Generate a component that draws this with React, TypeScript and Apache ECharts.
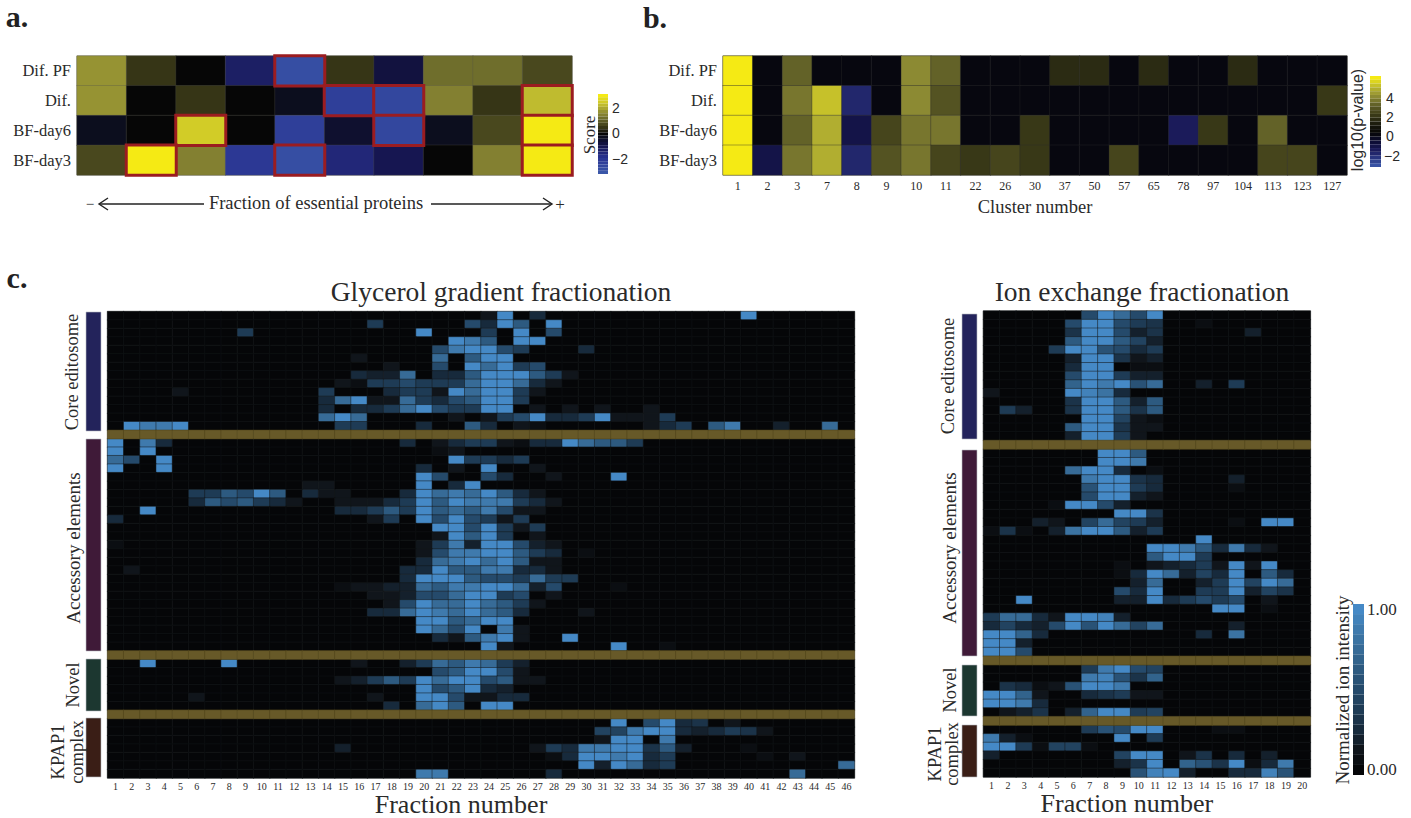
import React, { useEffect, useRef } from "react";
import * as echarts from "echarts";

type Row = Record<number, number>;

// ---------- panel a ----------
const scoreConditions = ["Dif. PF", "Dif.", "BF-day6", "BF-day3"];
const scoreDifPF = [1.8, 0.6, 0, -1.4, -3.0, 0.6, -0.8, 1.2, 1.4, 0.7];
const scoreDif = [1.8, 0, 0.6, 0, -0.3, -2.3, -2.6, 1.6, 0.6, 2.4];
const scoreDay6 = [-0.3, 0.1, 2.6, 0.05, -2.3, -0.5, -2.6, -0.2, 0.9, 3.3];
const scoreDay3 = [0.8, 3.3, 1.6, -2.2, -3.0, -1.6, -1.1, 0, 1.6, 3.1];
// [column, row] of the outlined cells
const scoreOutlined = [[4, 0], [5, 1], [6, 1], [9, 1], [2, 2], [6, 2], [9, 2], [1, 3], [4, 3], [9, 3]];

// ---------- panel b ----------
const clusterNumbers = ["1", "2", "3", "7", "8", "9", "10", "11", "22", "26", "30", "37", "50", "57", "65", "78", "97", "104", "113", "123", "127"];
const pvalDifPF = [6, 0, 3, 0, 0, 0, 3.8, 3, 0, 0, 0, 1.5, 1.6, 0, 1.6, 0, 0, 1.5, 0, 0, 0];
const pvalDif = [6, 0, 3.4, 4.9, -2, 0, 3.8, 2.5, 0, 0, 0, 0, 0, 0, 0, 0, 0, 0, 0, 0, 2];
const pvalDay6 = [6, 0, 3.1, 4.5, -1.3, 2.2, 3.4, 3.6, 0, 0, 2, 0, 0, 0, 0, -1.6, 1.9, 0, 3, 0, 0];
const pvalDay3 = [6, -1.2, 3.6, 4.7, -2.1, 2.7, 3.3, 2.2, 1.9, 2.1, 2, 0, 0, 2.4, 0, 0, 0, 0, 2.4, 2.2, 0];

// ---------- panel c, glycerol gradient: {fraction: level 0-8} per protein ----------
const glycerolCore: Row[] = [
  { 24: 1, 25: 8, 27: 2, 40: 8 },
  { 17: 3, 23: 4, 24: 2, 25: 8, 26: 5, 28: 8 },
  { 9: 3, 20: 8, 24: 3, 26: 8, 28: 4 },
  { 22: 8, 23: 7, 24: 5, 26: 8, 27: 8 },
  { 21: 4, 22: 7, 23: 8, 24: 8, 25: 4, 26: 3, 30: 2 },
  { 16: 1, 21: 6, 23: 5, 24: 8, 25: 8 },
  { 18: 1, 21: 4, 23: 8, 24: 6, 25: 8, 26: 3, 27: 4 },
  { 16: 2, 17: 1.5, 18: 1.5, 19: 6, 21: 2, 22: 2, 23: 5, 24: 8, 25: 8, 26: 8, 27: 5, 28: 3, 29: 1 },
  { 15: 1, 16: 0.5, 17: 3, 18: 3, 19: 4, 20: 3, 21: 3, 22: 3, 23: 6, 24: 8, 25: 8, 26: 6, 27: 2, 28: 1 },
  { 5: 1, 14: 3, 18: 2, 19: 3, 20: 3, 21: 1, 22: 8, 23: 6, 24: 8, 25: 8, 26: 3, 27: 1 },
  { 14: 2, 15: 6, 16: 8, 17: 1, 18: 1, 19: 6, 20: 3, 21: 2, 22: 4, 23: 5, 24: 8, 25: 8, 26: 3 },
  { 14: 2, 16: 2, 17: 2, 18: 3, 19: 6, 20: 8, 21: 4, 22: 3, 23: 3, 24: 8, 25: 8, 27: 1, 29: 1, 31: 1, 34: 1 },
  { 14: 6, 15: 8, 16: 6, 22: 1, 24: 1, 25: 3, 26: 4, 27: 8, 28: 2, 29: 2, 30: 3, 31: 8, 32: 1, 33: 1, 34: 1, 35: 3 },
  { 2: 8, 3: 7, 4: 7, 5: 8, 15: 3, 16: 3, 20: 2, 23: 5, 24: 2, 26: 1, 27: 0.5, 34: 1, 35: 2, 36: 3, 38: 5, 39: 7, 42: 1.5, 45: 6 },
];
const glycerolAccessory: Row[] = [
  { 1: 8, 3: 7, 4: 2, 19: 2, 21: 1, 22: 2, 23: 3, 24: 3, 25: 1, 26: 0.5, 27: 2, 28: 2, 29: 8, 30: 6, 31: 5, 32: 5, 33: 3 },
  { 1: 8, 3: 8, 21: 0.5, 22: 1 },
  { 1: 6, 2: 4, 4: 8, 22: 8, 23: 3, 24: 3, 25: 2, 26: 3 },
  { 1: 8, 4: 8, 20: 2, 22: 1, 24: 8, 27: 1 },
  { 20: 8, 21: 4, 24: 4, 25: 2, 28: 1, 32: 8 },
  { 13: 1, 14: 1, 20: 8, 22: 2, 23: 8 },
  { 6: 3, 7: 3, 8: 5, 9: 4, 10: 8, 11: 5, 13: 2, 14: 1, 15: 1, 19: 2, 20: 8, 21: 6, 22: 7, 23: 6, 24: 8, 25: 5, 26: 2, 27: 1 },
  { 6: 2, 7: 5, 8: 4, 9: 5, 10: 3, 11: 2, 12: 1, 15: 1, 16: 1, 17: 1, 18: 2, 19: 3, 20: 8, 21: 5, 22: 8, 23: 7, 24: 7, 25: 7, 26: 3, 27: 2, 28: 1 },
  { 3: 8, 15: 2, 16: 2, 17: 3, 18: 5, 19: 3, 20: 8, 21: 5, 22: 6, 23: 5, 24: 7, 25: 4, 26: 1, 27: 1 },
  { 1: 2, 17: 1, 18: 3, 20: 8, 21: 4, 22: 8, 23: 4, 24: 3, 25: 1, 26: 3 },
  { 21: 8, 22: 8, 23: 4, 24: 8, 25: 3, 26: 1, 27: 3 },
  { 21: 1, 22: 8, 23: 5, 24: 8, 25: 3, 27: 1 },
  { 1: 0.5, 20: 1, 21: 3, 22: 7, 23: 1.5, 24: 8, 25: 8, 26: 4, 27: 1.5, 28: 1 },
  { 20: 1, 21: 4, 22: 7, 23: 7, 24: 8, 25: 8, 26: 5, 27: 3, 28: 2, 30: 0.5 },
  { 20: 2, 21: 6, 22: 7, 23: 8, 24: 6, 25: 8, 26: 5, 27: 1, 28: 1 },
  { 2: 1, 19: 2, 20: 2, 21: 8, 22: 5, 23: 5, 24: 7, 25: 7, 26: 2, 27: 2, 28: 1 },
  { 19: 2, 20: 8, 21: 8, 22: 8, 23: 5, 24: 4, 25: 4, 26: 3, 27: 6, 28: 3, 29: 3 },
  { 15: 0.5, 16: 1, 17: 1, 18: 1.5, 19: 1.5, 20: 6, 21: 5, 22: 7, 23: 7, 24: 8, 25: 8, 26: 6, 27: 1.5, 28: 4, 32: 0.5 },
  { 17: 1, 18: 1, 19: 1.5, 20: 4, 21: 4, 22: 6, 23: 8, 24: 8, 25: 3, 26: 4, 28: 1 },
  { 18: 1, 19: 4, 20: 8, 21: 6, 22: 6, 23: 8, 24: 6, 25: 5, 26: 3, 27: 1 },
  { 17: 2, 18: 2, 19: 6, 20: 8, 21: 7, 22: 6, 23: 8, 24: 6, 25: 5, 26: 2, 30: 1 },
  { 20: 8, 21: 8, 22: 5, 23: 6, 24: 8, 25: 8 },
  { 20: 8, 21: 6, 22: 4, 23: 8, 25: 7, 26: 1 },
  { 21: 2, 22: 1, 23: 5, 24: 7, 25: 8, 26: 1, 29: 8 },
  { 24: 8, 25: 1, 32: 8, 35: 0.5 },
];
const glycerolNovel: Row[] = [
  { 3: 8, 8: 8, 16: 1, 19: 1.5, 20: 3, 21: 6, 22: 5, 23: 7, 24: 6, 25: 3, 26: 1.5 },
  { 21: 4, 22: 5, 23: 8, 24: 8, 25: 4, 26: 1 },
  { 15: 1, 16: 1.5, 17: 3, 18: 5, 19: 3, 20: 8, 21: 6, 22: 8, 23: 8, 24: 4, 25: 5, 26: 1, 27: 1 },
  { 20: 8, 21: 4, 22: 5, 23: 8, 24: 2, 25: 1.5 },
  { 6: 1, 17: 1, 20: 8, 21: 8, 22: 4, 23: 1, 24: 1, 25: 2, 26: 2 },
  { 18: 2, 20: 6, 21: 8, 22: 5, 24: 8, 25: 8 },
];
const glycerolKpap: Row[] = [
  { 32: 8, 34: 4, 35: 8, 36: 2, 37: 2.5, 39: 1 },
  { 31: 3.5, 32: 3.5, 33: 7, 34: 8, 35: 8, 36: 2, 37: 1.5, 38: 2, 39: 3, 40: 2.5, 41: 1 },
  { 31: 1, 32: 8, 33: 8, 35: 7 },
  { 15: 1.5, 27: 1, 28: 3, 29: 2, 30: 7, 31: 7, 32: 8, 33: 8, 34: 2.5, 35: 5, 36: 1.5, 40: 0.5 },
  { 28: 0.5, 29: 2, 30: 8, 31: 8, 32: 7, 33: 8, 34: 2, 35: 3, 41: 0.7, 43: 1 },
  { 30: 8, 31: 1.5, 32: 8, 33: 6, 34: 2, 35: 3, 46: 6 },
  { 20: 7, 21: 7, 28: 2, 43: 6 },
];

// ---------- panel c, ion exchange ----------
const ionCore: Row[] = [
  { 7: 4, 8: 8, 9: 6, 10: 4, 11: 8 },
  { 6: 4, 7: 8, 8: 8, 9: 4, 10: 3, 11: 2.5, 14: 0.7 },
  { 6: 2.5, 7: 8, 8: 8, 9: 4, 10: 1.5, 11: 2.5, 17: 1.5 },
  { 6: 5, 7: 8, 8: 8, 9: 5, 10: 3.5, 11: 1.5 },
  { 5: 3, 6: 8, 7: 8, 8: 4.5, 9: 4, 10: 2, 11: 3 },
  { 6: 1.5, 7: 8, 8: 8, 9: 2.5, 10: 1, 11: 1.5 },
  { 6: 2, 7: 8, 8: 8, 10: 0.5, 11: 0.5 },
  { 6: 4, 7: 8, 8: 8, 9: 3, 10: 1.5, 11: 1.5 },
  { 6: 5.5, 7: 8, 8: 7, 9: 8, 10: 4.5, 11: 6, 14: 1.5, 16: 3 },
  { 1: 1, 6: 8, 7: 7.5, 8: 6.5, 9: 2 },
  { 6: 2.5, 7: 8, 8: 8, 9: 5, 10: 1.5, 11: 5 },
  { 2: 3, 3: 1.5, 6: 2.5, 7: 8, 8: 8, 9: 5, 10: 2.5, 11: 5 },
  { 7: 8, 8: 8, 9: 3.5, 10: 1, 11: 0.7 },
  { 6: 5, 7: 8, 8: 8, 9: 2.5, 10: 1, 11: 1 },
  { 6: 1.5, 7: 8, 8: 8, 9: 3, 10: 1 },
];
const ionAccessory: Row[] = [
  { 8: 8, 9: 8, 10: 5 },
  { 8: 8, 9: 8, 10: 7 },
  { 6: 6, 7: 8, 8: 8, 9: 2, 11: 0.7 },
  { 7: 7, 8: 8, 9: 8, 10: 2.5, 11: 2, 16: 1.5 },
  { 7: 4.5, 8: 8, 9: 8, 10: 3, 11: 2, 16: 0.5 },
  { 7: 4, 8: 8, 9: 8, 10: 1.5, 11: 1 },
  { 5: 0.5, 6: 8, 7: 8, 8: 4, 9: 1.5 },
  { 9: 8, 10: 8, 11: 2.5 },
  { 4: 1.5, 5: 1, 7: 3.5, 8: 6, 9: 3.5, 10: 3, 11: 1.5, 16: 0.5, 18: 8, 19: 8 },
  { 1: 0.7, 2: 2.5, 3: 0.5, 5: 1.5, 6: 6.5, 7: 8, 8: 8, 9: 5, 10: 1.5, 11: 3 },
  { 14: 8 },
  { 11: 8, 12: 8, 13: 7, 14: 5, 15: 2, 16: 7, 17: 2, 18: 1 },
  { 11: 5, 12: 8, 13: 8, 14: 3 },
  { 9: 0.5, 11: 1, 12: 1.5, 13: 2, 14: 3, 15: 1, 16: 8, 17: 1, 18: 8 },
  { 9: 0.5, 10: 2, 11: 8, 12: 6, 13: 1.5, 14: 3.5, 15: 2, 16: 8, 18: 5, 19: 2 },
  { 10: 1.5, 11: 6, 14: 1.5, 15: 3, 16: 8, 17: 3.5, 18: 8, 19: 6 },
  { 9: 4, 10: 2, 11: 8, 14: 3, 15: 3, 16: 8, 17: 1.5, 18: 3.5, 19: 2.5 },
  { 3: 8, 9: 1.5, 10: 1.5, 11: 8, 12: 2, 13: 3, 14: 4, 15: 3, 16: 4, 18: 1 },
  { 15: 8, 16: 8, 18: 0.7 },
  { 1: 3, 2: 6, 3: 6, 4: 2, 5: 1, 6: 8, 7: 8, 8: 7.5, 9: 1.5 },
  { 1: 2, 2: 3.5, 3: 2, 4: 1.5, 5: 4, 6: 8, 7: 4.5, 8: 8, 9: 6, 10: 3.5, 11: 6, 16: 1.5 },
  { 1: 8, 2: 8, 3: 5.5, 4: 2, 14: 2, 16: 6.5 },
  { 1: 8, 2: 8, 3: 1.5 },
  { 1: 8, 2: 8, 3: 4 },
];
const ionNovel: Row[] = [
  { 7: 3, 8: 7, 9: 8, 10: 4, 11: 3.5 },
  { 7: 7, 8: 7.5, 9: 4.5, 10: 2.5, 11: 5.5 },
  { 2: 2.5, 3: 2, 4: 0.7, 5: 1, 6: 4.5, 7: 8, 8: 8, 9: 7 },
  { 1: 8, 2: 8, 3: 5.5, 4: 1, 7: 2, 8: 2.5, 9: 3, 10: 1, 11: 1 },
  { 1: 8, 2: 8, 3: 7, 4: 2 },
  { 2: 1, 3: 1.5, 4: 2.5, 6: 1.5, 7: 5.5, 8: 8, 9: 8, 10: 3, 11: 3.5 },
];
const ionKpap: Row[] = [
  { 7: 3, 8: 4.5, 9: 4, 10: 8, 11: 8, 15: 0.5, 16: 0.7 },
  { 1: 7, 2: 1.5, 3: 0.7, 9: 8, 11: 3 },
  { 1: 8, 2: 8, 3: 3, 4: 0.7, 5: 3.5, 6: 3.5, 7: 0.5 },
  { 1: 1.5, 9: 3.5, 10: 8, 11: 8, 13: 1, 14: 2.5, 16: 2, 18: 1.5 },
  { 9: 1.5, 10: 2.5, 11: 8, 13: 5.5, 14: 4.5, 15: 2.5, 16: 8, 17: 0.7, 18: 2, 19: 7 },
  { 10: 4.5, 11: 7.5, 12: 8, 13: 1.5, 16: 2, 17: 2, 18: 7.5, 19: 4.5 },
];

const SERIF = "Liberation Serif";
const SANS = "Liberation Sans";
const MAX_LEVEL = 8;

type Stop = [number, string];
const scoreStops: Stop[] = [
  [-3.3, "#3a56a8"], [-2, "#293290"], [-1, "#14134a"], [-0.3, "#0d0f20"], [0, "#060606"], [0.6, "#3a3918"],
  [1.2, "#636229"], [1.8, "#8d8a34"], [2.4, "#bab530"], [2.6, "#c8c42c"], [3.3, "#f5ea14"],
];
const pvalStops: Stop[] = [
  [-3.5, "#3852a4"], [-2, "#1d1e60"], [-1, "#0d0d36"], [0, "#050505"], [1, "#1c1c0e"], [2, "#3c3c18"],
  [3, "#5e5d27"], [4, "#8f8d34"], [5, "#bcb82f"], [6, "#f5ea14"],
];
const intensityStops: Stop[] = [
  [0, "#050608"], [0.125, "#10151b"], [0.25, "#172a3c"], [0.375, "#1e3b55"], [0.5, "#254a6b"],
  [0.625, "#2d5a80"], [0.75, "#376b97"], [0.875, "#3f7aad"], [1, "#4589c6"],
];

function mix(stops: Stop[], v: number) {
  let i = 0;
  while (i < stops.length - 2 && v > stops[i + 1][0]) i++;
  const [a, ca] = stops[i];
  const [b, cb] = stops[i + 1];
  const t = Math.max(0, Math.min(1, (v - a) / (b - a)));
  const ch = (c: string, k: number) => parseInt(c.slice(1 + k * 2, 3 + k * 2), 16);
  const out = [0, 1, 2].map((k) => Math.round(ch(ca, k) + (ch(cb, k) - ch(ca, k)) * t));
  return `rgb(${out.join(",")})`;
}
function pieces(stops: Stop[], n: number) {
  const lo = stops[0][0];
  const hi = stops[stops.length - 1][0];
  const w = (hi - lo) / n;
  return Array.from({ length: n }, (_, i) => ({
    min: lo + i * w - (i === 0 ? 1 : 0),
    max: lo + (i + 1) * w + (i === n - 1 ? 1 : 0),
    color: mix(stops, lo + ((hi - lo) * i) / (n - 1)),
  }));
}
const matrix = (rows: number[][]) => rows.flatMap((r, y) => r.map((v, x) => [x, y, v]));

function stack(sections: Row[][]) {
  const rows: (Row | null)[] = [];
  sections.forEach((s, i) => {
    if (i) rows.push(null);
    rows.push(...s);
  });
  return rows;
}
function levels(rows: (Row | null)[], cols: number) {
  const out: number[][] = [];
  rows.forEach((r, y) => {
    if (r) for (let x = 0; x < cols; x++) out.push([x, y, (r[x + 1] ?? 0) / MAX_LEVEL]);
  });
  return out;
}
function dividers(rows: (Row | null)[], cols: number) {
  const out: number[][] = [];
  rows.forEach((r, y) => {
    if (!r) for (let x = 0; x < cols; x++) out.push([x, y, 1]);
  });
  return out;
}
const seq = (n: number) => Array.from({ length: n }, (_, i) => String(i + 1));

const glycerolRows = stack([glycerolCore, glycerolAccessory, glycerolNovel, glycerolKpap]);
const ionRows = stack([ionCore, ionAccessory, ionNovel, ionKpap]);

const txt = (text: string, x: number, y: number, size: number, extra: any = {}, rotation = 0) => ({
  type: "text",
  x,
  y,
  rotation,
  silent: true,
  style: {
    text,
    fontFamily: extra.fontFamily ?? SERIF,
    fontSize: size,
    fontWeight: extra.fontWeight ?? "normal",
    fill: extra.fill ?? "#2a2a2a",
    textAlign: extra.textAlign ?? "center",
    textVerticalAlign: "middle",
  },
});
const bar = (x: number, y1: number, y2: number, color: string) => ({
  type: "rect",
  silent: true,
  shape: { x, y: y1, width: 15, height: y2 - y1 },
  style: { fill: color, stroke: "#b9bcc4", lineWidth: 0.6 },
});
const seg = (x1: number, x2: number, y: number) => ({
  type: "line",
  silent: true,
  shape: { x1, y1: y, x2, y2: y },
  style: { stroke: "#222", lineWidth: 1.4 },
});
const head = (pts: number[][]) => ({
  type: "polyline",
  silent: true,
  shape: { points: pts },
  style: { stroke: "#222", lineWidth: 1.4, fill: "none" },
});

const R90 = Math.PI / 2;
const sansLeft = { fontFamily: SANS, textAlign: "left" };
const graphics: any[] = [
  txt("a.", 17, 16, 30, { fontWeight: "bold", fill: "#222" }),
  txt("b.", 655, 17, 30, { fontWeight: "bold", fill: "#222" }),
  txt("c.", 17, 277, 30, { fontWeight: "bold", fill: "#222" }),
  // panel a annotation
  txt("Fraction of essential proteins", 316, 203, 18.5),
  txt("−", 90, 204, 15),
  txt("+", 560, 204, 17),
  seg(99, 204, 204),
  head([[108, 198], [99, 204], [108, 210]]),
  seg(431, 552, 204),
  head([[543, 198], [552, 204], [543, 210]]),
  txt("Score", 589, 135, 17, {}, R90),
  txt("2", 612, 108, 14, sansLeft),
  txt("0", 612, 133, 14, sansLeft),
  txt("−2", 612, 159, 14, sansLeft),
  // panel b legend
  txt("log10(p-value)", 1357, 120, 16, { fontFamily: SANS }, R90),
  txt("4", 1386, 98, 14, sansLeft),
  txt("2", 1386, 117, 14, sansLeft),
  txt("0", 1386, 136, 14, sansLeft),
  txt("−2", 1384, 156, 14, sansLeft),
  // panel c titles
  txt("Glycerol gradient fractionation", 501, 291, 27.5),
  txt("Ion exchange fractionation", 1142, 291, 27.5),
  // group bars, glycerol
  bar(86, 312, 431, "#23235b"),
  bar(86, 439, 651, "#3f1a38"),
  bar(86, 659, 711, "#1c3730"),
  bar(86, 718, 777, "#3a1e16"),
  txt("Core editosome", 72, 372, 18.5, {}, R90),
  txt("Accessory elements", 73, 548, 19, {}, R90),
  txt("Novel", 73, 685, 18.5, {}, R90),
  txt("KPAP1", 58, 752, 18.5, {}, R90),
  txt("complex", 77, 752, 18.5, {}, R90),
  // group bars, ion
  bar(962, 314, 439, "#23235b"),
  bar(962, 450, 656, "#3f1a38"),
  bar(962, 665, 716, "#1c3730"),
  bar(962, 725, 777, "#3a1e16"),
  txt("Core editosome", 948, 376, 18.5, {}, R90),
  txt("Accessory elements", 949, 548, 19, {}, R90),
  txt("Novel", 950, 690, 18.5, {}, R90),
  txt("KPAP1", 935, 754, 18.5, {}, R90),
  txt("complex", 952, 754, 18.5, {}, R90),
  // intensity legend
  txt("Normalized ion intensity", 1342, 690, 19, {}, R90),
  txt("1.00", 1367, 609, 17, { textAlign: "left" }),
  txt("0.00", 1367, 769, 17, { textAlign: "left" }),
];

const cat = (data: string[], gridIndex: number, extra: any = {}) => ({
  type: "category",
  gridIndex,
  data,
  axisLine: { show: false },
  axisTick: { show: false },
  splitLine: { show: false },
  ...extra,
});
const heat = (name: string, xAxisIndex: number, data: number[][], itemStyle: any, z = 2) => ({
  type: "heatmap",
  name,
  xAxisIndex,
  yAxisIndex: xAxisIndex,
  data,
  z,
  silent: true,
  itemStyle,
  emphasis: { disabled: true },
});

const scoreColumns = scoreDifPF.map((_, i) => String(i + 1));
const scoreTable = [scoreDifPF, scoreDif, scoreDay6, scoreDay3];
const scoreMatrix = matrix(scoreTable);
const outlined = scoreOutlined.map(([x, y]) => [x, y, scoreTable[y][x]]);
const condAxisLabel = { fontFamily: SERIF, fontSize: 16.5, color: "#2a2a2a", interval: 0, margin: 6 };
const fractionLabel = { fontFamily: SERIF, fontSize: 10, color: "#2a2a2a", interval: 0, margin: 3 };
const bigName = { fontFamily: SERIF, fontSize: 26, color: "#2a2a2a", padding: [0, 40, 0, 0] };
const cellLine = { borderColor: "#14181b", borderWidth: 0.5 };
const goldLine = { borderColor: "#4c4119", borderWidth: 0.5 };

const legendBase = {
  type: "piecewise",
  orient: "vertical",
  itemGap: 0,
  itemSymbol: "rect",
  showLabel: false,
  selectedMode: false,
  hoverLink: false,
  padding: 0,
};
const gridBase = { show: true, borderWidth: 1, backgroundColor: "transparent", outerBoundsMode: "none", containLabel: false };
const fractionName = { name: "Fraction number", nameLocation: "middle", nameGap: 13.5, nameMoveOverlap: false, nameTextStyle: bigName };

const option: any = {
  animation: false,
  backgroundColor: "#fff",
  tooltip: { show: false },
  grid: [
    { ...gridBase, left: 77, top: 56, width: 495, height: 119, borderColor: "#8a8a80" },
    { ...gridBase, left: 723, top: 56, width: 624, height: 119, borderColor: "#8a8a80" },
    { ...gridBase, left: 107.5, top: 311.5, width: 747, height: 466.5, borderColor: "#a0a0a0" },
    { ...gridBase, left: 983.4, top: 311, width: 327, height: 466, borderColor: "#a0a0a0" },
  ],
  xAxis: [
    cat(scoreColumns, 0, { axisLabel: { show: false } }),
    cat(clusterNumbers, 1, {
      axisLabel: { fontFamily: SERIF, fontSize: 12, color: "#2a2a2a", interval: 0, margin: 5 },
      name: "Cluster number",
      nameLocation: "middle",
      nameGap: 22,
      nameTextStyle: { fontFamily: SERIF, fontSize: 18.5, color: "#2a2a2a" },
    }),
    cat(seq(46), 2, { axisLabel: fractionLabel, ...fractionName }),
    cat(seq(20), 3, { axisLabel: fractionLabel, ...fractionName }),
  ],
  yAxis: [
    cat(scoreConditions, 0, { inverse: true, axisLabel: condAxisLabel }),
    cat(scoreConditions, 1, { inverse: true, axisLabel: condAxisLabel }),
    cat(seq(glycerolRows.length), 2, { inverse: true, axisLabel: { show: false } }),
    cat(seq(ionRows.length), 3, { inverse: true, axisLabel: { show: false } }),
  ],
  visualMap: [
    { ...legendBase, seriesIndex: [0, 1], pieces: pieces(scoreStops, 25), left: 598, top: 94, itemWidth: 10, itemHeight: 80 / 25 },
    { ...legendBase, seriesIndex: [2], pieces: pieces(pvalStops, 24), left: 1370, top: 76, itemWidth: 11, itemHeight: 91 / 24 },
    { ...legendBase, seriesIndex: [3, 5], pieces: pieces(intensityStops, 17), left: 1353, top: 604, itemWidth: 11, itemHeight: 171 / 17 },
    { type: "continuous", show: false, seriesIndex: [4, 6], min: 0, max: 1, inRange: { color: ["#675928", "#675928"] } },
  ],
  series: [
    heat("Score", 0, scoreMatrix, { borderColor: "#55554c", borderWidth: 0.3 }),
    heat("Score outlined", 0, outlined, { borderColor: "#9b1c20", borderWidth: 3 }, 4),
    heat("log10(p-value)", 1, matrix([pvalDifPF, pvalDif, pvalDay6, pvalDay3]), { borderColor: "#2a2a2a", borderWidth: 0.4 }),
    heat("Glycerol gradient", 2, levels(glycerolRows, 46), cellLine),
    heat("Glycerol dividers", 2, dividers(glycerolRows, 46), goldLine),
    heat("Ion exchange", 3, levels(ionRows, 20), cellLine),
    heat("Ion dividers", 3, dividers(ionRows, 20), goldLine),
  ],
  graphic: graphics,
};

export default function App() {
  const ref = useRef<HTMLDivElement>(null);
  useEffect(() => {
    const chart = echarts.init(ref.current!, undefined, { renderer: "svg" });
    chart.setOption(option);
    return () => chart.dispose();
  }, []);
  return <div ref={ref} style={{ position: "absolute", left: 0, top: 0, width: 1411, height: 818 }} />;
}
